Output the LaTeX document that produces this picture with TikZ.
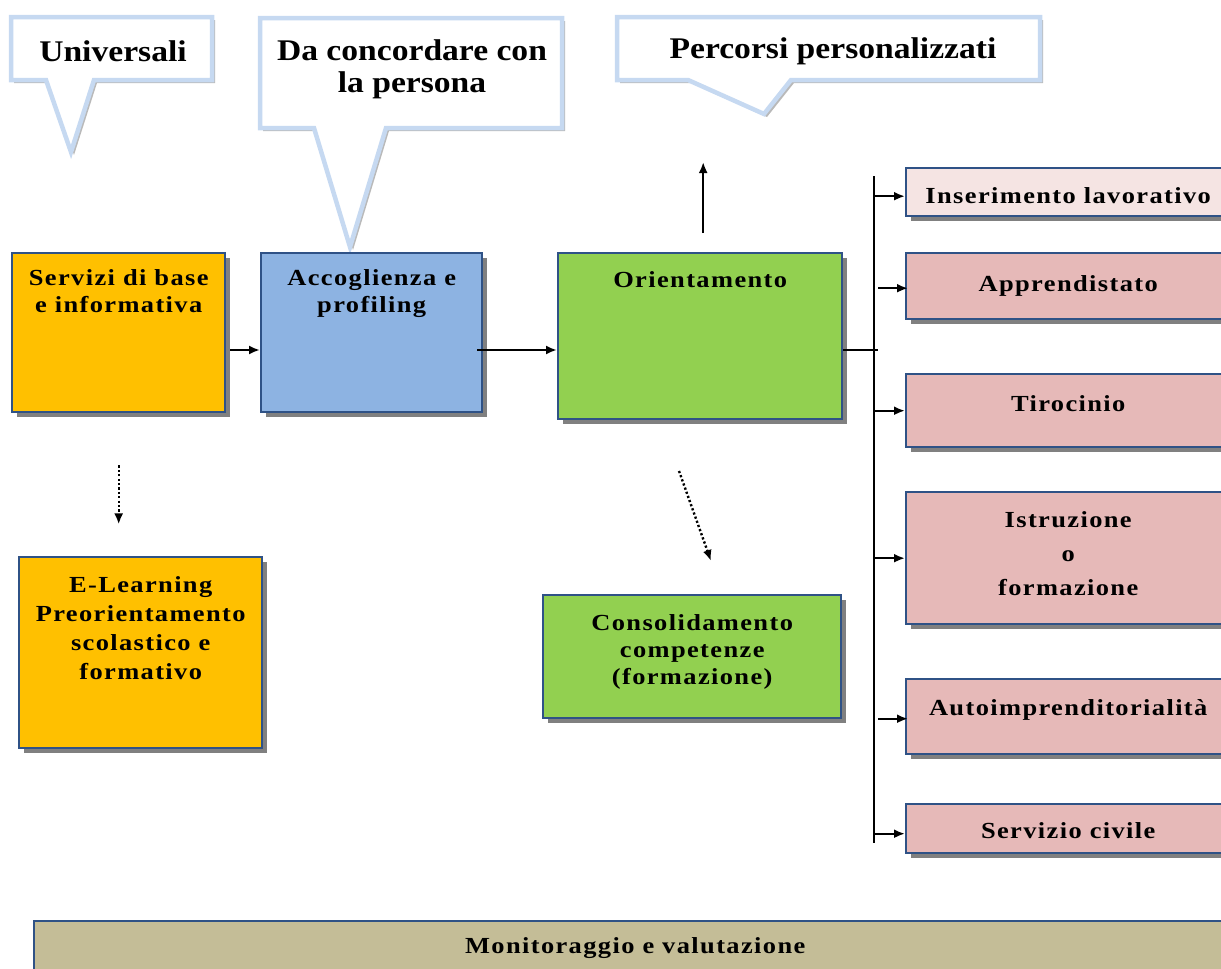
\documentclass[tikz,border=0pt]{standalone}
\usepackage{fontspec}
\setmainfont{Liberation Serif}
\newfontfamily\boxfont{Liberation Serif}[LetterSpace=6,FakeStretch=1.15]
\newfontfamily\callfont{Liberation Serif}[FakeStretch=1.12]
\usetikzlibrary{shadows,arrows.meta,calc}
\definecolor{orangeF}{HTML}{FFC000}
\definecolor{blueF}{HTML}{8DB3E2}
\definecolor{greenF}{HTML}{92D050}
\definecolor{pinkL}{HTML}{F5E4E3}
\definecolor{pinkF}{HTML}{E6B9B8}
\definecolor{tanF}{HTML}{C4BD97}
\definecolor{bordc}{HTML}{2F5286}
\definecolor{shadowc}{HTML}{808080}
\definecolor{calloutc}{HTML}{C6D9F1}
\tikzset{
  box/.style={draw=bordc, line width=2.4pt, rectangle, inner sep=0pt, anchor=north west,
    drop shadow={shadow xshift=5pt, shadow yshift=-5pt, fill=shadowc, opacity=1},
    font=\boxfont\bfseries\fontsize{23}{27}\selectfont, align=center},
  txt/.style={font=\boxfont\bfseries\fontsize{23}{27}\selectfont, align=center, inner sep=0pt, anchor=north},
  ctr/.style={font=\boxfont\bfseries\fontsize{23}{27}\selectfont, align=center, inner sep=0pt},
  callout/.style={draw=calloutc, line width=4.5pt, fill=white, line join=miter,
    drop shadow={shadow xshift=3pt, shadow yshift=-3pt, fill=gray!55, opacity=1}},
  ctxt/.style={font=\callfont\bfseries\fontsize{30}{32}\selectfont, align=center, inner sep=0pt},
  arr/.style={-{Latex[length=11pt,width=9pt]}, line width=2.4pt},
  darr/.style={arr, dash pattern=on 2.2pt off 2.2pt},
  bus/.style={line width=2pt},
}
\begin{document}
\begin{tikzpicture}[x=1pt,y=-1pt]
\useasboundingbox (0,0) rectangle (1221,969);
% callouts
\draw[callout] (11,17) -- (212,17) -- (212,80) -- (94,80) -- (71,152) -- (46,80) -- (11,80) -- cycle;
\node[ctxt] (cuni) at (113,51) {Universali};
\draw[callout] (260,18) -- (562,18) -- (562,128) -- (386,128) -- (350,247) -- (314,128) -- (260,128) -- cycle;
\node[ctxt] (cdac) at (412,69) {Da concordare con\\la persona};
\draw[callout] (617,17) -- (1040,17) -- (1040,80) -- (791,80) -- (764,114) -- (688,80) -- (617,80) -- cycle;
\node[ctxt] (cper) at (833,51) {Percorsi personalizzati};
% main boxes
\node[box, fill=orangeF, minimum width=213pt, minimum height=159pt] (serv) at (11,252) {};
\node[txt] (servt) at ([yshift=-17pt]serv.north) {Servizi di base\\e informativa};
\node[box, fill=blueF, minimum width=221pt, minimum height=159pt] (acc) at (260,252) {};
\node[txt] (acct) at ([yshift=-17pt]acc.north) {Accoglienza e\\profiling};
\node[box, fill=greenF, minimum width=284pt, minimum height=166pt] (ori) at (557,252) {};
\node[txt] (orit) at ([yshift=-19pt]ori.north) {Orientamento};
\node[box, fill=orangeF, minimum width=243pt, minimum height=191pt] (elr) at (18,556) {};
\node[txt, font=\boxfont\bfseries\fontsize{23}{29}\selectfont] (elrt) at ([yshift=-20pt]elr.north) {E-Learning\\Preorientamento\\scolastico e\\formativo};
\node[box, fill=greenF, minimum width=298pt, minimum height=123pt] (cons) at (542,594) {};
\node[ctr] (const) at ([yshift=5pt]cons.center) {Consolidamento\\competenze\\(formazione)};
% right boxes
\node[box, fill=pinkL, minimum width=324pt, minimum height=48pt] (ins) at (905,167) {};
\node[ctr] (inst) at ([yshift=-3pt]ins.center) {Inserimento lavorativo};
\node[box, fill=pinkF, minimum width=324pt, minimum height=66pt] (app) at (905,252) {Apprendistato};
\node[box, fill=pinkF, minimum width=324pt, minimum height=73pt] (tir) at (905,373) {};
\node[ctr] (tirt) at ([yshift=7pt]tir.center) {Tirocinio};
\node[box, fill=pinkF, minimum width=324pt, minimum height=132pt] (ist) at (905,491) {};
\node[ctr, font=\boxfont\bfseries\fontsize{23}{34}\selectfont] (istt) at ([yshift=5pt]ist.center) {Istruzione\\o\\formazione};
\node[box, fill=pinkF, minimum width=324pt, minimum height=75pt] (aut) at (905,678) {};
\node[ctr] (autt) at ([yshift=7pt]aut.center) {Autoimprenditorialità};
\node[box, fill=pinkF, minimum width=324pt, minimum height=49pt] (ser) at (905,803) {};
\node[ctr] (sert) at ([yshift=-2pt]ser.center) {Servizio civile};
\node[box, fill=tanF, minimum width=1202pt, minimum height=56pt] (mon) at (33,920) {};
\node[ctr] (mont) at ([yshift=1pt]mon.center) {Monitoraggio e valutazione};
% connectors
\coordinate (y350) at (0,350);
\draw[arr] ($(serv.east |- y350)+(4,0)$) -- (acc.west |- y350);
\draw[arr] ($(acc.east |- y350)+(-6,0)$) -- (ori.west |- y350);
\draw[arr] ($(ori.north)+(3,-19)$) -- ($(ori.north)+(3,-90)$);
\coordinate (bt) at (874,176);
\coordinate (bb) at (874,843);
\draw[bus] (bt) -- (bb);
\draw[bus] (ori.east |- y350) -- ($(bt |- y350)+(4,0)$);
\draw[arr] ($(bt |- ins.west)+(0,4)$) -- ($(ins.west)+(0,4)$);
\draw[arr] ($(bt |- app.west)+(4,2)$) -- ($(app.west)+(3,2)$);
\draw[arr] (bt |- tir.west) -- (tir.west);
\draw[arr] (bt |- ist.west) -- (ist.west);
\draw[arr] ($(bt |- aut.west)+(4,2)$) -- ($(aut.west)+(3,2)$);
\draw[arr] ($(bt |- ser.west)+(0,5)$) -- ($(ser.west)+(0,5)$);
\draw[darr] ($(serv.south)+(0,52)$) -- ($(serv.south)+(0,111)$);
\coordinate (d1) at (679,471);
\coordinate (d2) at (711,561);
\draw[darr] (d1) -- (d2);
\end{tikzpicture}
\end{document}
